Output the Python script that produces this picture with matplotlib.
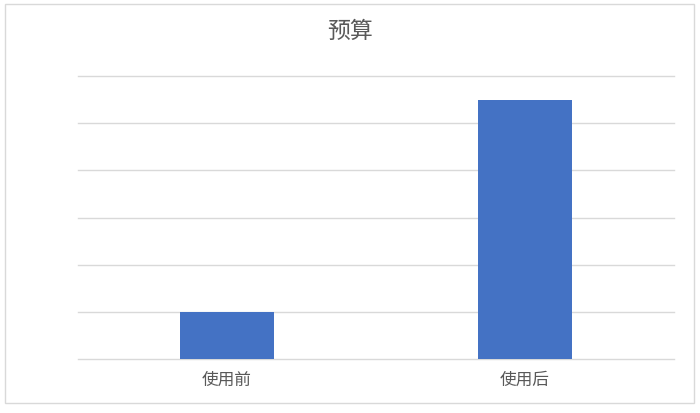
import matplotlib.pyplot as plt
from matplotlib.patches import Rectangle

plt.rcParams['font.family'] = ['Noto Sans CJK SC', 'DejaVu Sans']

# data
title = "预算"
categories = ["使用前", "使用后"]
values = [1, 5.5]

bar_color = "#4472C4"
grid_color = "#d9d9d9"
text_color = "#595959"

fig = plt.figure(figsize=(7, 4.13), dpi=100)
ax = fig.add_axes([78 / 700, 1 - 359 / 413, (674 - 78) / 700, (359 - 76) / 413])

x = range(len(categories))
ax.bar(x, values, width=0.314, color=bar_color, zorder=3)

ax.set_xlim(-0.5, 1.5)
ax.set_ylim(0, 6)
ax.set_yticks(range(0, 7))
ax.set_yticklabels([])
ax.set_xticks(list(x))
ax.set_xticklabels(categories, fontsize=12, color=text_color)
ax.tick_params(axis='both', length=0)
ax.tick_params(axis='x', pad=9)
ax.grid(axis='y', color=grid_color, linewidth=1, zorder=0)
for line in ax.get_ygridlines():
    line.set_clip_on(False)
for s in ax.spines.values():
    s.set_visible(False)

fig.text(0.5, 1 - 31 / 413, title, ha='center', va='center', fontsize=16.5, color=text_color)

# outer chart frame
fig.patches.append(Rectangle((5 / 700, 1 - 403 / 413), 689 / 700, 399 / 413,
                             transform=fig.transFigure, fill=False,
                             edgecolor=grid_color, linewidth=1))

fig.savefig("out.png", dpi=100)
